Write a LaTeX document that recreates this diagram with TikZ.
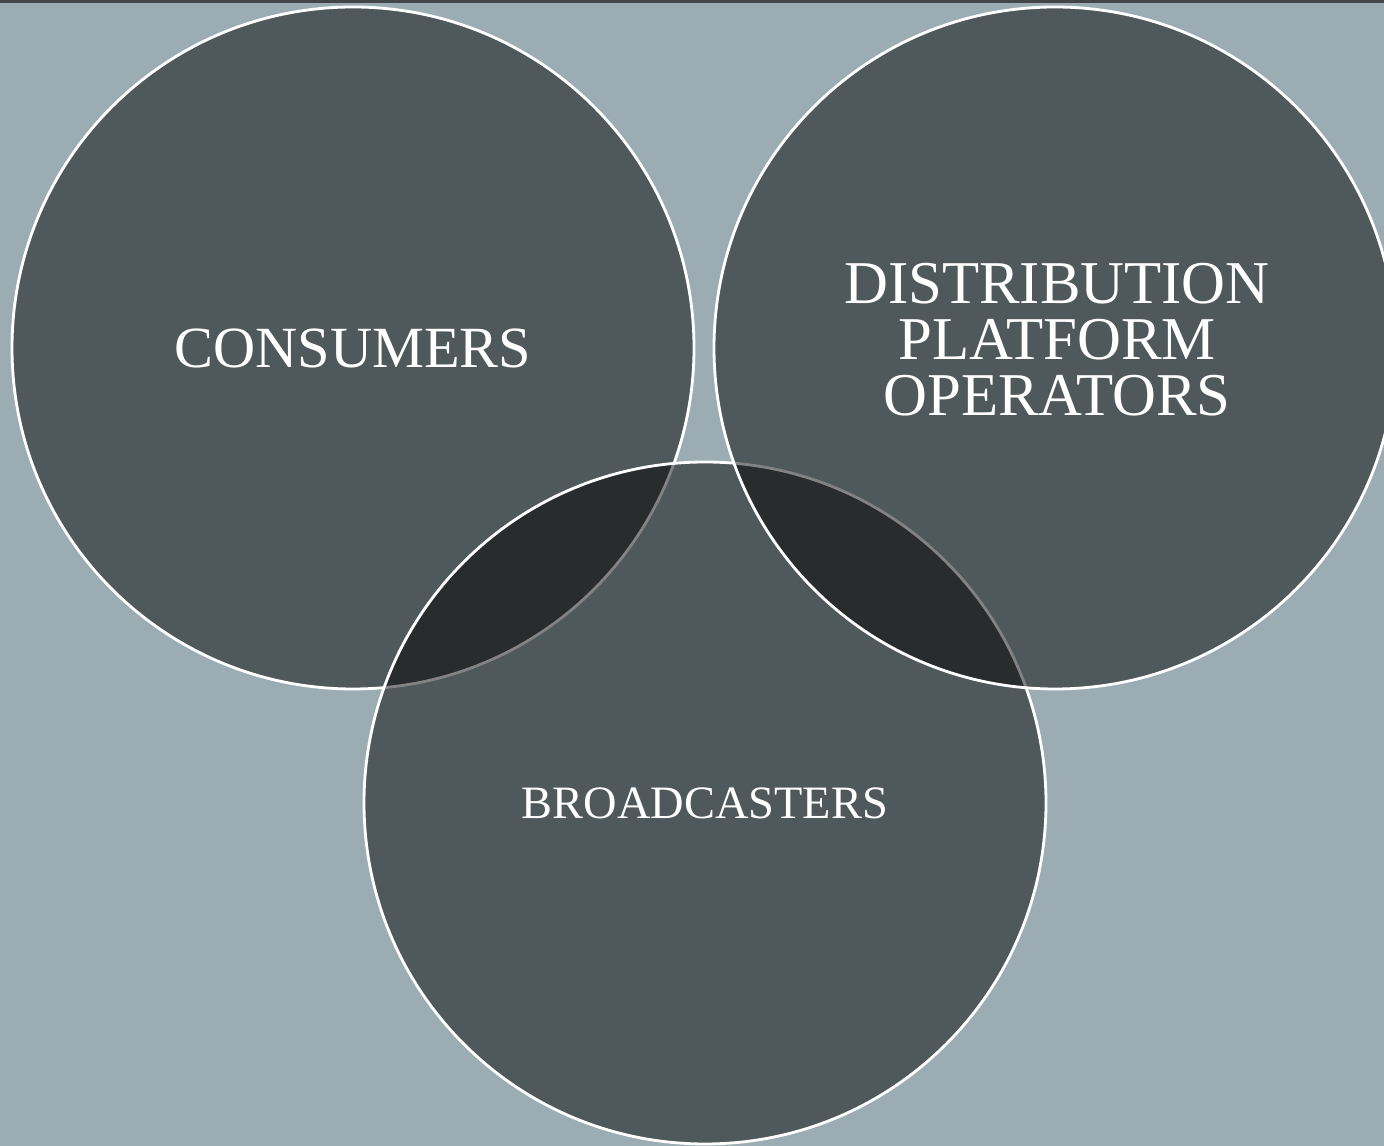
\documentclass[tikz,border=0pt]{standalone}
\usepackage{fontspec}
\setmainfont{Liberation Serif}
\usetikzlibrary{positioning}
\definecolor{slatebg}{HTML}{9BADB2}
\definecolor{topbar}{HTML}{424649}

\begin{document}
\begin{tikzpicture}[x=0.1mm, y=-0.1mm,
    ring/.style={circle, draw=white, line width=0.8pt, fill=black, fill opacity=0.49, text opacity=1, minimum size=68.2mm, inner sep=0pt},
    ring label/.style={text=white, align=center, inner sep=0pt}
]
    \useasboundingbox (0,0) rectangle (1384,1146);

    % Background and top bar
    \fill[slatebg] (0,0) rectangle (1384,1146);
    \fill[topbar] (0,0) rectangle (1384,3);

    % Circles (drawing order gives the overlaps)
    \node[ring] (consumers) at (353,348) {};
    \node[ring] (broadcasters) at (705,803) {};
    \node[ring] (operators) at (1055,348) {};

    % Labels
    \node[ring label, font=\fontsize{16.6}{16}\selectfont] (consumers_txt) at (consumers.center) {CONSUMERS};
    \node[ring label, font=\fontsize{17.3}{15.9}\selectfont] (operators_txt) at ([xshift=0.2mm, yshift=0.85mm]operators.center) {DISTRIBUTION\\PLATFORM\\OPERATORS};
    \node[ring label, font=\fontsize{13.2}{14}\selectfont] (broadcasters_txt) at (broadcasters.center) {BROADCASTERS};
\end{tikzpicture}
\end{document}
